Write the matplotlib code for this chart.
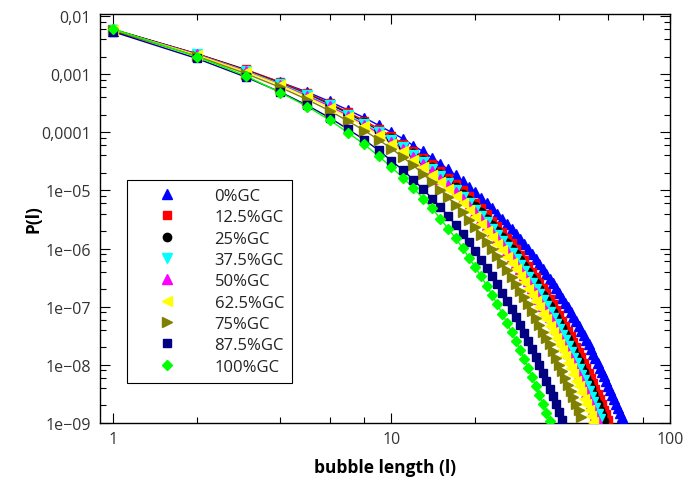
import numpy as np
import matplotlib
matplotlib.use('Agg')
import matplotlib.pyplot as plt
from matplotlib.ticker import LogLocator, FixedFormatter, FixedLocator, NullFormatter

plt.rcParams['font.family'] = ['Open Sans', 'DejaVu Sans']

# log10 of P(l), for l = 1, 2, 3, ...
gc0 = [-2.26, -2.66, -2.93, -3.14, -3.31, -3.47, -3.62, -3.75, -3.88, -4.00,
       -4.11, -4.23, -4.33, -4.44, -4.54, -4.64, -4.74, -4.84, -4.94, -5.03,
       -5.13, -5.22, -5.31, -5.40, -5.49, -5.58, -5.67, -5.75, -5.84, -5.93,
       -6.01, -6.10, -6.18, -6.27, -6.35, -6.43, -6.52, -6.60, -6.68, -6.77,
       -6.85, -6.93, -7.01, -7.09, -7.17, -7.25, -7.33, -7.41, -7.49, -7.57,
       -7.65, -7.73, -7.81, -7.89, -7.97, -8.05, -8.13, -8.20, -8.28, -8.36,
       -8.44, -8.52, -8.59, -8.67, -8.75, -8.83, -8.90, -8.98]
gc12 = [-2.23, -2.65, -2.92, -3.14, -3.33, -3.50, -3.66, -3.80, -3.94, -4.07,
        -4.20, -4.32, -4.44, -4.55, -4.67, -4.78, -4.89, -5.00, -5.10, -5.21,
        -5.31, -5.41, -5.52, -5.62, -5.72, -5.82, -5.91, -6.01, -6.11, -6.20,
        -6.30, -6.40, -6.49, -6.59, -6.68, -6.77, -6.87, -6.96, -7.05, -7.14,
        -7.24, -7.33, -7.42, -7.51, -7.60, -7.69, -7.78, -7.87, -7.96, -8.05,
        -8.14, -8.23, -8.32, -8.41, -8.50, -8.59, -8.68, -8.77, -8.85, -8.94]
gc25 = [-2.23, -2.65, -2.93, -3.16, -3.35, -3.52, -3.68, -3.83, -3.97, -4.10,
        -4.23, -4.36, -4.48, -4.60, -4.72, -4.83, -4.94, -5.06, -5.17, -5.27,
        -5.38, -5.49, -5.59, -5.70, -5.80, -5.90, -6.00, -6.10, -6.20, -6.30,
        -6.40, -6.50, -6.60, -6.70, -6.80, -6.89, -6.99, -7.09, -7.18, -7.28,
        -7.37, -7.47, -7.56, -7.66, -7.75, -7.85, -7.94, -8.03, -8.13, -8.22,
        -8.31, -8.40, -8.50, -8.59, -8.68, -8.77, -8.87, -8.96]
gc37 = [-2.24, -2.66, -2.94, -3.17, -3.36, -3.54, -3.70, -3.85, -3.99, -4.13,
        -4.26, -4.39, -4.52, -4.64, -4.76, -4.88, -4.99, -5.11, -5.22, -5.33,
        -5.44, -5.55, -5.66, -5.76, -5.87, -5.97, -6.08, -6.18, -6.28, -6.39,
        -6.49, -6.59, -6.69, -6.79, -6.89, -6.99, -7.09, -7.19, -7.29, -7.39,
        -7.49, -7.58, -7.68, -7.78, -7.88, -7.97, -8.07, -8.17, -8.26, -8.36,
        -8.45, -8.55, -8.64, -8.74, -8.84, -8.93]
gc50 = [-2.24, -2.66, -2.95, -3.18, -3.38, -3.55, -3.72, -3.87, -4.02, -4.16,
        -4.29, -4.42, -4.55, -4.67, -4.80, -4.91, -5.03, -5.15, -5.26, -5.38,
        -5.49, -5.60, -5.71, -5.82, -5.93, -6.04, -6.14, -6.25, -6.35, -6.46,
        -6.56, -6.67, -6.77, -6.87, -6.98, -7.08, -7.18, -7.28, -7.38, -7.48,
        -7.59, -7.69, -7.79, -7.88, -7.98, -8.08, -8.18, -8.28, -8.38, -8.48,
        -8.58, -8.67, -8.77, -8.87, -8.97]
gc62 = [-2.24, -2.67, -2.96, -3.19, -3.40, -3.58, -3.74, -3.90, -4.05, -4.20,
        -4.33, -4.47, -4.60, -4.73, -4.86, -4.98, -5.10, -5.22, -5.34, -5.46,
        -5.57, -5.69, -5.80, -5.92, -6.03, -6.14, -6.25, -6.36, -6.47, -6.58,
        -6.69, -6.80, -6.90, -7.01, -7.12, -7.22, -7.33, -7.44, -7.54, -7.64,
        -7.75, -7.85, -7.96, -8.06, -8.16, -8.27, -8.37, -8.47, -8.58, -8.68,
        -8.78, -8.88, -8.98]
gc75 = [-2.25, -2.69, -2.99, -3.23, -3.44, -3.63, -3.81, -3.97, -4.13, -4.28,
        -4.43, -4.57, -4.72, -4.85, -4.99, -5.12, -5.25, -5.38, -5.51, -5.63,
        -5.76, -5.88, -6.01, -6.13, -6.25, -6.37, -6.49, -6.61, -6.73, -6.84,
        -6.96, -7.08, -7.19, -7.31, -7.43, -7.54, -7.65, -7.77, -7.88, -8.00,
        -8.11, -8.22, -8.34, -8.45, -8.56, -8.67, -8.78, -8.90]
gc87 = [-2.27, -2.73, -3.05, -3.31, -3.54, -3.75, -3.95, -4.13, -4.31, -4.49,
        -4.65, -4.82, -4.98, -5.14, -5.29, -5.44, -5.60, -5.75, -5.89, -6.04,
        -6.19, -6.33, -6.47, -6.61, -6.76, -6.90, -7.04, -7.18, -7.31, -7.45,
        -7.59, -7.73, -7.86, -8.00, -8.14, -8.27, -8.41, -8.54, -8.67, -8.81,
        -8.94]
gc100 = [-2.22, -2.70, -3.03, -3.32, -3.56, -3.79, -4.01, -4.21, -4.41, -4.60,
         -4.78, -4.96, -5.14, -5.31, -5.49, -5.66, -5.82, -5.99, -6.16, -6.32,
         -6.48, -6.64, -6.80, -6.96, -7.12, -7.28, -7.44, -7.59, -7.75, -7.90,
         -8.06, -8.21, -8.37, -8.52, -8.67, -8.82, -8.97]

labels = ['0%GC', '12.5%GC', '25%GC', '37.5%GC', '50%GC',
          '62.5%GC', '75%GC', '87.5%GC', '100%GC']
series = [gc0, gc12, gc25, gc37, gc50, gc62, gc75, gc87, gc100]
colors = ['#0000ff', '#ff0000', '#000000', '#00ffff', '#ff00ff',
          '#ffff00', '#808000', '#000080', '#00ff00']
markers = ['^', 's', 'o', 'v', '^', '<', '>', 's', 'D']
msizes = [7, 6, 6, 7, 7, 7, 7, 6, 5]

fig = plt.figure(figsize=(6.87, 4.81), dpi=100)
ax = fig.add_axes([100 / 687, 1 - 424 / 481, 570 / 687, 409 / 481])

for vals, lab, col, mk, ms in zip(series, labels, colors, markers, msizes):
    l = np.arange(1, len(vals) + 1)
    p = 10.0 ** np.array(vals)
    ax.plot(l, p, color=col, lw=1, zorder=2)
    ax.plot(l, p, ls='none', marker=mk, ms=ms, color=col, mec=col, label=lab, zorder=3)

ax.set_xscale('log')
ax.set_yscale('log')
ax.set_xlim(0.9, 100)
ax.set_ylim(1e-9, 1.08e-2)

ax.xaxis.set_major_locator(FixedLocator([1, 10, 100]))
ax.xaxis.set_major_formatter(FixedFormatter(['1', '10', '100']))
ax.xaxis.set_minor_locator(LogLocator(base=10, subs=(2, 4, 6, 8)))
ax.xaxis.set_minor_formatter(NullFormatter())

yt = [1e-9, 1e-8, 1e-7, 1e-6, 1e-5, 1e-4, 1e-3, 1e-2]
ytl = ['1e\u221209', '1e\u221208', '1e\u221207', '1e\u221206', '1e\u221205',
       '0,0001', '0,001', '0,01']
ax.yaxis.set_major_locator(FixedLocator(yt))
ax.yaxis.set_major_formatter(FixedFormatter(ytl))
ax.yaxis.set_minor_locator(LogLocator(base=10, subs=(2, 4, 6, 8), numticks=20))
ax.yaxis.set_minor_formatter(NullFormatter())

ax.tick_params(which='both', direction='in', top=True, right=True,
               labelsize=11.5, labelcolor='#333333', width=0.8)
ax.tick_params(which='major', length=7)
ax.tick_params(which='minor', length=4)
ax.tick_params(axis='y', which='major', pad=6.5)
ax.tick_params(axis='x', which='major', pad=6)
for s in ax.spines.values():
    s.set_linewidth(1)

ax.set_xlabel('bubble length (l)', fontsize=12.5, fontweight='bold')
ax.set_ylabel('P(l)', fontsize=12.5, fontweight='bold')
ax.xaxis.set_label_coords(0.5, -0.085)
ax.yaxis.set_label_coords(-0.1, 0.5)

leg = ax.legend(loc='lower left', bbox_to_anchor=(0.0474, 0.0978), fontsize=12,
                frameon=True, fancybox=False, framealpha=1, edgecolor='black',
                handlelength=3.75, handletextpad=1.0, labelspacing=0.32,
                borderpad=0.5, borderaxespad=0)
leg.get_frame().set_linewidth(0.8)
for t in leg.get_texts():
    t.set_color('#222222')

fig.savefig('out.png', dpi=100)
